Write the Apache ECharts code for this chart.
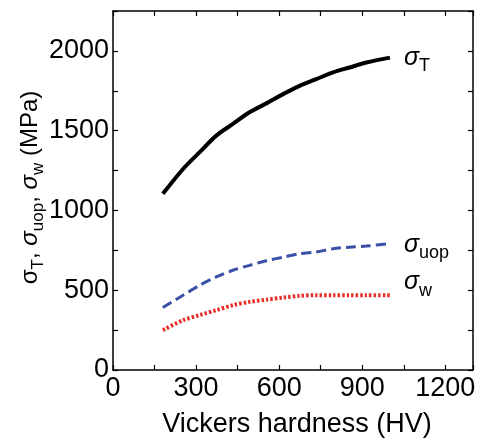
<!DOCTYPE html>
<html>
<head>
<meta charset="utf-8">
<script src="https://cdn.jsdelivr.net/npm/echarts@6/dist/echarts.min.js"></script>
<style>
html,body{margin:0;padding:0;background:#fff;}
#chart{width:481px;height:444px;}
</style>
</head>
<body>
<div id="chart"></div>
<script>
// Data
const hardness = [180, 253, 313, 373, 433, 493, 554, 614, 674, 734, 794, 854, 915, 1000];
const sigmaT   = [1104, 1260, 1365, 1469, 1542, 1615, 1671, 1729, 1781, 1823, 1865, 1896, 1927, 1958];
const sigmaUop = [392, 468, 531, 583, 625, 656, 685, 707, 729, 740, 760, 770, 777, 792];
const sigmaW   = [250, 312, 344, 375, 406, 427, 441, 454, 465, 469, 469, 469, 469, 469];
const xTicks = [0, 300, 600, 900, 1200];
const yTicks = [0, 500, 1000, 1500, 2000];

const FONT = '"Liberation Sans", Arial, sans-serif';

function pairs(ys) { return hardness.map((x, i) => [x, ys[i]]); }

const labelRich = {
  s: { fontFamily: FONT, fontStyle: 'italic', fontSize: 25, lineHeight: 30, color: '#000' },
  b: { fontFamily: FONT, fontSize: 18, lineHeight: 20, padding: [17, 0, 0, 0], color: '#000' }
};

function endLabel(sub, dy) {
  return {
    show: true,
    formatter: '{s|σ}{b|' + sub + '}',
    rich: labelRich,
    distance: 14,
    offset: [0, dy]
  };
}

const chart = echarts.init(document.getElementById('chart'), null, { renderer: 'canvas' });

const axisCommon = {
  type: 'value',
  axisLine: { show: true, onZero: false, lineStyle: { color: '#000', width: 1.5 } },
  axisTick: { show: true, inside: true, length: 5, lineStyle: { color: '#000', width: 1.2 } },
  splitLine: { show: false }
};

chart.setOption({
  animation: false,
  backgroundColor: '#fff',
  grid: { left: 113, right: 8, top: 11, bottom: 74, containLabel: false, outerBoundsMode: 'none' },
  xAxis: [
    Object.assign({}, axisCommon, {
      position: 'bottom', min: 0, max: 1300, interval: 150,
      name: 'Vickers hardness (HV)',
      nameLocation: 'middle', nameGap: 41, nameMoveOverlap: false,
      nameTextStyle: { fontFamily: FONT, fontSize: 27, color: '#000', padding: [0, 0, 0, 8] },
      axisLabel: {
        fontFamily: FONT, fontSize: 27, color: '#000', margin: 5,
        formatter: v => xTicks.indexOf(v) >= 0 ? String(v) : ''
      }
    }),
    Object.assign({}, axisCommon, {
      position: 'top', min: 0, max: 1300, interval: 150,
      axisLabel: { show: false }
    })
  ],
  yAxis: [
    Object.assign({}, axisCommon, {
      position: 'left', min: 0, max: 2250, interval: 250,
      name: '{m|σ}{b|T}{m|, }{i|σ}{b|uop}{m|, }{i|σ}{b|w}{m| (MPa)}',
      nameLocation: 'middle', nameGap: 68, nameRotate: 90, nameMoveOverlap: false,
      nameTextStyle: {
        padding: [0, 0, 0, 6],
        rich: {
          m: { fontFamily: FONT, fontSize: 24, lineHeight: 30, color: '#000' },
          i: { fontFamily: FONT, fontStyle: 'italic', fontSize: 24, lineHeight: 30, color: '#000' },
          b: { fontFamily: FONT, fontSize: 17, lineHeight: 20, padding: [16, 0, 0, 0], color: '#000' }
        }
      },
      axisLabel: {
        fontFamily: FONT, fontSize: 27, color: '#000', margin: 4,
        formatter: v => yTicks.indexOf(v) >= 0 ? String(v) : ''
      }
    }),
    Object.assign({}, axisCommon, {
      position: 'right', min: 0, max: 2250, interval: 250,
      axisLabel: { show: false }
    })
  ],
  series: [
    {
      type: 'line', name: 'σT', data: pairs(sigmaT), showSymbol: false, smooth: 0.3,
      lineStyle: { color: '#000', width: 4 },
      endLabel: endLabel('T', 0)
    },
    {
      type: 'line', name: 'σuop', data: pairs(sigmaUop), showSymbol: false, smooth: 0.3,
      lineStyle: { color: '#3a4fa6', width: 3, type: [10, 5] },
      endLabel: endLabel('uop', 1)
    },
    {
      type: 'line', name: 'σw', data: pairs(sigmaW), showSymbol: false, smooth: 0.3,
      lineStyle: { color: '#e8302a', width: 4, type: [2.5, 2] },
      endLabel: endLabel('w', -13)
    }
  ]
});
</script>
</body>
</html>
